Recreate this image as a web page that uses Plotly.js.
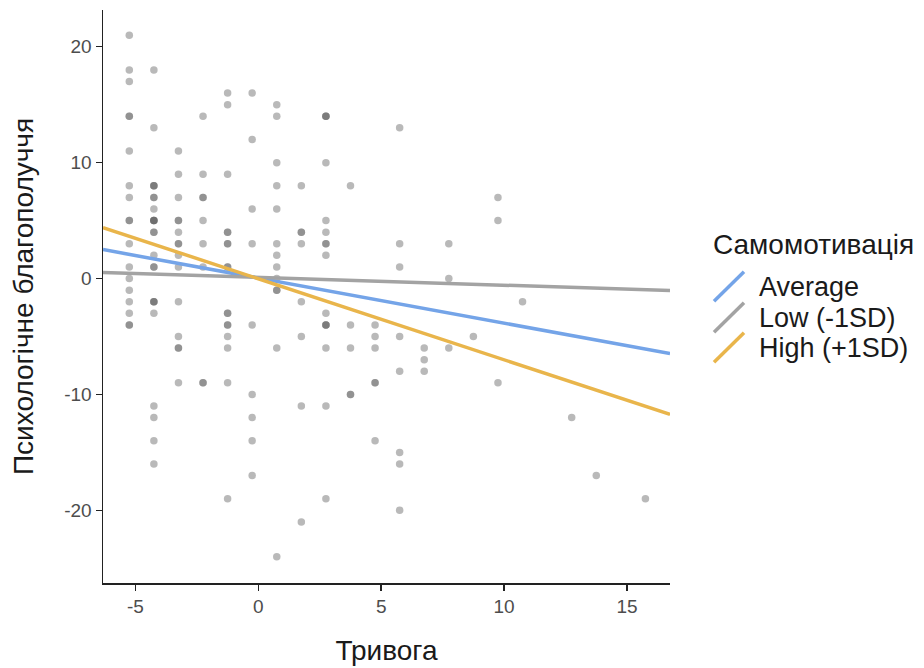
<!DOCTYPE html>
<html>
<head>
<meta charset="utf-8">
<script src="https://cdn.plot.ly/plotly-3.0.1.min.js"></script>
<style>
  html, body { margin: 0; padding: 0; background: #ffffff; }
  #chart { width: 924px; height: 668px; }
</style>
</head>
<body>
<div id="chart"></div>
<script>
// Centred anxiety scores (x) and psychological well-being (y), one entry per respondent.
const anxiety = [
  -5.25, -5.25, -5.25, -5.25, -5.25, -5.25, -5.25, -5.25, -5.25, -5.25, -5.25, -5.25, -5.25, -5.25, -5.25, -5.25, -5.25, -5.25,
  -4.25, -4.25, -4.25, -4.25, -4.25, -4.25, -4.25, -4.25, -4.25, -4.25, -4.25, -4.25, -4.25, -4.25, -4.25, -4.25, -4.25, -4.25, -4.25, -4.25, -4.25, -4.25, -4.25, -4.25, -4.25,
  -3.25, -3.25, -3.25, -3.25, -3.25, -3.25, -3.25, -3.25, -3.25, -3.25, -3.25, -3.25, -3.25, -3.25, -3.25,
  -2.25, -2.25, -2.25, -2.25, -2.25, -2.25, -2.25, -2.25, -2.25,
  -1.25, -1.25, -1.25, -1.25, -1.25, -1.25, -1.25, -1.25, -1.25, -1.25, -1.25, -1.25, -1.25, -1.25, -1.25, -1.25, -1.25,
  -0.25, -0.25, -0.25, -0.25, -0.25, -0.25, -0.25, -0.25, -0.25,
  0.75, 0.75, 0.75, 0.75, 0.75, 0.75, 0.75, 0.75, 0.75, 0.75, 0.75, 0.75, 0.75,
  1.75, 1.75, 1.75, 1.75, 1.75, 1.75, 1.75, 1.75,
  2.75, 2.75, 2.75, 2.75, 2.75, 2.75, 2.75, 2.75, 2.75, 2.75, 2.75, 2.75, 2.75, 2.75, 2.75, 2.75,
  3.75, 3.75, 3.75, 3.75, 3.75,
  4.75, 4.75, 4.75, 4.75, 4.75, 4.75,
  5.75, 5.75, 5.75, 5.75, 5.75, 5.75, 5.75, 5.75,
  6.75, 6.75, 6.75,
  7.75, 7.75, 7.75,
  8.75,
  9.75, 9.75, 9.75,
  10.75,
  12.75,
  13.75,
  15.75
];
const wellbeing = [
  21, 18, 17, 14, 14, 11, 8, 7, 5, 5, 3, 1, 0, -1, -2, -3, -4, -4,
  18, 13, 8, 8, 8, 7, 7, 6, 5, 5, 5, 5, 4, 4, 2, 1, 1, -2, -2, -2, -3, -11, -12, -14, -16,
  11, 9, 7, 5, 5, 4, 3, 3, 2, 1, -2, -5, -6, -6, -9,
  14, 9, 7, 7, 5, 3, 1, -9, -9,
  16, 15, 9, 4, 4, 3, 3, 1, 1, -3, -3, -4, -4, -5, -6, -9, -19,
  16, 12, 6, 3, -4, -10, -12, -14, -17,
  15, 14, 10, 8, 6, 3, 2, 1, 0, -1, -1, -6, -24,
  8, 4, 4, 3, -2, -5, -11, -21,
  14, 14, 14, 10, 5, 4, 3, 3, 2, -3, -4, -4, -4, -6, -11, -19,
  8, -4, -6, -10, -10,
  -4, -5, -6, -9, -9, -14,
  13, 3, 1, -5, -8, -15, -16, -20,
  -6, -7, -8,
  3, 0, -6,
  -5,
  7, 5, -9,
  -2,
  -12,
  -17,
  -19
];

// Simple slopes of anxiety at three levels of self-motivation.
const levels = ['Average', 'Low (-1SD)', 'High (+1SD)'];
const intercepts = [0.04, 0.095, -0.02];
const slopes = [-0.389, -0.0672, -0.699];
const lineColors = ['#74a4e8', '#a3a3a3', '#e9b54b'];

const xRange = [-6.32, 16.75];
const yRange = [-26.27, 23.17];
const xTicks = [-5, 0, 5, 10, 15];
const yTicks = [-20, -10, 0, 10, 20];

const FONT = 'Liberation Sans, Arial, Helvetica, sans-serif';

const traces = [{
  type: 'scatter',
  mode: 'markers',
  x: anxiety,
  y: wellbeing,
  marker: { size: 7.5, color: 'rgba(95,95,95,0.44)', line: { width: 0 } },
  hoverinfo: 'x+y',
  showlegend: false
}];

levels.forEach((name, i) => {
  traces.push({
    type: 'scatter',
    mode: 'lines',
    name: name,
    x: xRange,
    y: xRange.map(v => intercepts[i] + slopes[i] * v),
    line: { color: lineColors[i], width: 3.5 },
    showlegend: false
  });
});

// Plot area geometry in pixels, used to place the legend block.
const W = 924, H = 668;
const M = { l: 103, r: 254, t: 10, b: 85 };
const pw = W - M.l - M.r, ph = H - M.t - M.b;
const px = v => (v - M.l) / pw;
const py = v => (H - M.b - v) / ph;

const keyRows = [286.7, 317.7, 347.7];
const shapes = [];
const annotations = [{
  xref: 'paper', yref: 'paper', x: px(711), y: py(245),
  xanchor: 'left', yanchor: 'middle', showarrow: false,
  text: 'Самомотивація', font: { family: FONT, size: 28, color: '#1a1a1a' }
}];
levels.forEach((name, i) => {
  const cy = keyRows[i];
  shapes.push({
    type: 'line', xref: 'paper', yref: 'paper',
    x0: px(714), y0: py(cy + 14.5), x1: px(744), y1: py(cy - 15),
    line: { color: lineColors[i], width: 3.5 }
  });
  annotations.push({
    xref: 'paper', yref: 'paper', x: px(757), y: py(cy),
    xanchor: 'left', yanchor: 'middle', showarrow: false,
    text: name, font: { family: FONT, size: 27, color: '#1a1a1a' }
  });
});

const layout = {
  width: W, height: H,
  margin: M,
  paper_bgcolor: '#ffffff',
  plot_bgcolor: '#ffffff',
  font: { family: FONT },
  xaxis: {
    range: xRange, tickvals: xTicks, ticktext: xTicks.map(String),
    showgrid: false, zeroline: false,
    showline: true, linecolor: '#222', linewidth: 1.5,
    ticks: 'outside', ticklen: 6, tickwidth: 1.5, tickcolor: '#222',
    tickfont: { family: FONT, size: 19, color: '#4d4d4d' },
    title: { text: 'Тривога', font: { family: FONT, size: 28, color: '#1a1a1a' }, standoff: 24 }
  },
  yaxis: {
    range: yRange, tickvals: yTicks, ticktext: yTicks.map(String),
    showgrid: false, zeroline: false,
    showline: true, linecolor: '#222', linewidth: 1.5,
    ticks: 'outside', ticklen: 6, tickwidth: 1.5, tickcolor: '#222',
    tickfont: { family: FONT, size: 19, color: '#4d4d4d' },
    title: { text: 'Психологічне благополуччя', font: { family: FONT, size: 28, color: '#1a1a1a' }, standoff: 22 }
  },
  shapes: shapes,
  annotations: annotations,
  showlegend: false
};

Plotly.newPlot('chart', traces, layout, { displayModeBar: false, staticPlot: true });
</script>
</body>
</html>
